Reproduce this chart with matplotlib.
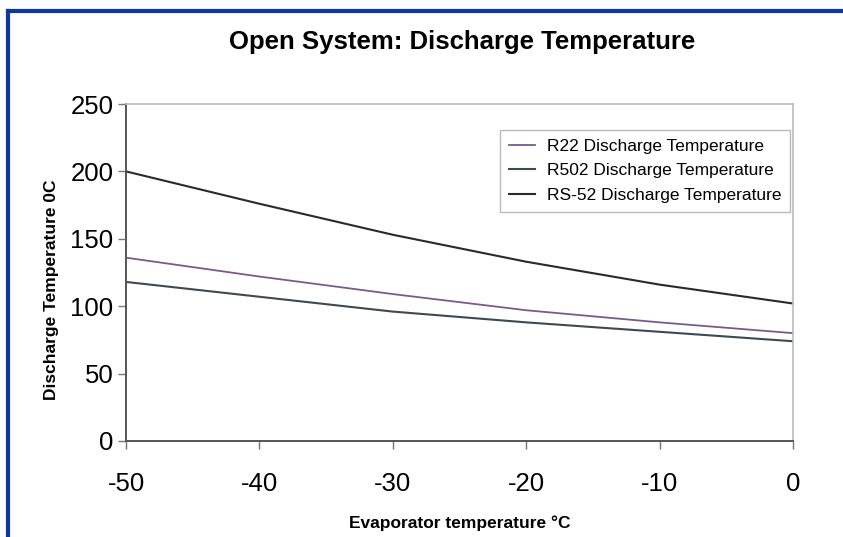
import matplotlib
matplotlib.use("Agg")
import matplotlib.pyplot as plt
from matplotlib.lines import Line2D

plt.rcParams["font.family"] = ["Liberation Sans", "DejaVu Sans"]
plt.rcParams["axes.unicode_minus"] = False

# ── Data ──────────────────────────────────────────────────────────────────────
evap_temp = [-50, -40, -30, -20, -10, 0]
r22 = [136, 122, 109, 97, 88, 80]
r502 = [118, 107, 96, 88, 81, 74]
rs52 = [200, 176, 153, 133, 116, 102]

x_ticks = [-50, -40, -30, -20, -10, 0]
y_ticks = [0, 50, 100, 150, 200, 250]

# ── Figure ────────────────────────────────────────────────────────────────────
fig = plt.figure(figsize=(8.43, 5.37), dpi=100)
ax = fig.add_axes([0.1495, 0.1788, 0.7912, 0.6275])

ax.plot(evap_temp, r22, color="#7a5a8c", lw=1.3, label="R22 Discharge Temperature")
ax.plot(evap_temp, r502, color="#3c4a55", lw=1.5, label="R502 Discharge Temperature")
ax.plot(evap_temp, rs52, color="#2a2a2a", lw=1.5, label="RS-52 Discharge Temperature")

ax.set_xlim(-50, 0)
ax.set_ylim(0, 250)
ax.set_xticks(x_ticks)
ax.set_yticks(y_ticks)
ax.tick_params(axis="both", labelsize=18.5, direction="out", length=6,
               color="#777777", width=1, pad=3)
ax.tick_params(axis="x", pad=16)

for side in ("left", "bottom"):
    ax.spines[side].set_color("#555555")
    ax.spines[side].set_linewidth(1.4)
for side in ("top", "right"):
    ax.spines[side].set_color("#bbbbbb")
    ax.spines[side].set_linewidth(1.2)

ax.set_xlabel("Evaporator temperature °C", fontsize=12.5, fontweight="bold", labelpad=14)
ax.set_ylabel("Discharge Temperature 0C", fontsize=12.5, fontweight="bold")
ax.yaxis.set_label_coords(-0.101, 0.448)

fig.text(0.548, 0.922, "Open System: Discharge Temperature", ha="center", va="center",
         fontsize=18.5, fontweight="bold")

leg = ax.legend(loc="upper right", bbox_to_anchor=(0.9955, 0.923), fontsize=12.5,
                frameon=True, fancybox=False, edgecolor="#aaaaaa", handlelength=1.5,
                handletextpad=0.7, borderpad=0.5, labelspacing=0.55, borderaxespad=0.0)
leg.get_frame().set_linewidth(1.0)

# blue page border (left and top)
fig.add_artist(Line2D([0.0095, 0.0095], [0.0, 0.980], color="#0a3aa0", lw=3,
                      transform=fig.transFigure))
fig.add_artist(Line2D([0.0095, 1.0], [0.980, 0.980], color="#0a3aa0", lw=3,
                      transform=fig.transFigure))

fig.savefig("out.png", dpi=100, facecolor="white")
